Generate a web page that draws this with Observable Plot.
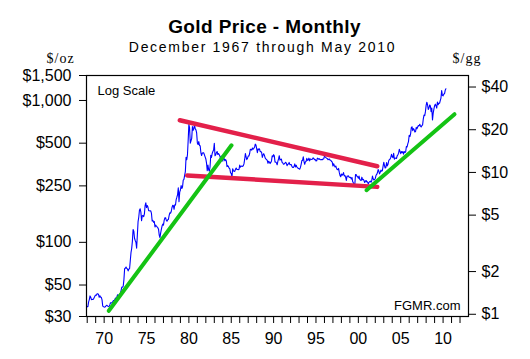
<!DOCTYPE html>
<html>
<head>
<meta charset="utf-8">
<script src="https://cdn.jsdelivr.net/npm/d3@7"></script>
<script src="https://cdn.jsdelivr.net/npm/@observablehq/plot@0.6"></script>
<style>
  html, body { margin: 0; padding: 0; background: #fff; }
  #chart { width: 530px; height: 359px; }
</style>
</head>
<body>
<div id="chart"></div>
<script>
// ---- Data ----
const titleText = "Gold Price - Monthly";
const subtitleText = "December 1967 through May 2010";
const leftUnit = "$/oz";
const rightUnit = "$/gg";
const OZ_GRAMS = 31.1035;

const priceTicks = [30, 50, 100, 250, 500, 1000, 1500];
const gramTicks = [1, 2, 5, 10, 20, 40];
const yearTicks = d3.range(1968, 2013);

// Monthly gold price ($/oz), starting December 1967
const startYear = 1967;
const startMonth = 11; // December (0-based)
const goldPrice = [
  35.0,
  35.2, 35.2, 38.0, 39.5, 41.9, 41.0, 39.4, 39.5, 39.6, 39.8, 40.9, 41.9, // 1968
  42.5, 42.4, 43.4, 43.3, 43.0, 41.0, 42.0, 41.0, 40.9, 39.3, 35.5, 35.2, // 1969
  34.9, 35.0, 35.3, 35.8, 36.0, 35.5, 35.3, 35.4, 36.2, 37.5, 37.4, 37.4, // 1970
  38.0, 38.8, 38.9, 39.2, 40.5, 40.1, 41.0, 42.7, 42.0, 42.5, 43.0, 43.6, // 1971
  45.8, 48.3, 48.3, 49.0, 54.6, 65.1, 65.7, 67.0, 65.5, 64.9, 62.9, 64.9, // 1972
  65.1, 74.2, 84.5, 90.5, 102.0, 123.3, 120.0, 106.8, 103.0, 100.1, 90.8, 112.3, // 1973
  139.3, 150.2, 168.4, 172.2, 163.3, 142.0, 154.1, 154.6, 151.8, 158.8, 181.5, 190.0, // 1974
  175.8, 181.8, 177.3, 167.0, 167.0, 166.3, 166.7, 159.8, 141.3, 142.9, 138.3, 140.3, // 1975
  128.2, 132.3, 129.6, 128.4, 126.8, 123.8, 112.5, 108.0, 116.0, 123.2, 130.3, 134.5, // 1976
  132.3, 142.8, 148.9, 149.2, 143.0, 140.8, 144.1, 145.0, 154.1, 161.5, 160.5, 165.0, // 1977
  175.3, 182.3, 181.6, 170.9, 184.0, 183.1, 200.3, 208.1, 217.1, 242.6, 193.4, 226.0, // 1978
  233.7, 251.3, 240.1, 245.3, 274.6, 277.5, 296.5, 315.1, 397.3, 382.0, 415.7, 524.0, // 1979
  680.0, 640.0, 500.0, 520.0, 540.0, 655.0, 615.0, 635.0, 670.0, 630.0, 620.0, 590.0, // 1980
  502, 489, 513, 482, 479, 428, 409, 425, 428, 427, 414, 400, // 1981
  387, 362, 320, 350, 325, 317, 342, 411, 397, 423, 437, 448, // 1982
  499, 408, 414, 429, 437, 416, 423, 414, 405, 383, 405, 382, // 1983
  374, 394, 388, 376, 383, 375, 342, 347, 342, 333, 329, 309, // 1984
  306, 288, 330, 321, 316, 317, 327, 334, 326, 326, 325, 327, // 1985
  350, 339, 344, 345, 343, 346, 357, 384, 423, 401, 383, 391, // 1986
  405, 406, 421, 453, 451, 447, 462, 453, 460, 468, 492, 484, // 1987
  458, 428, 457, 450, 456, 436, 437, 431, 397, 412, 422, 410, // 1988
  394, 388, 383, 378, 361, 373, 368, 359, 366, 375, 408, 401, // 1989
  415, 407, 368, 368, 363, 352, 372, 387, 408, 380, 384, 386, // 1990
  366, 363, 355, 357, 361, 367, 362, 347, 355, 357, 366, 353, // 1991
  354, 353, 342, 337, 337, 343, 357, 340, 349, 340, 334, 333, // 1992
  330, 328, 337, 355, 377, 378, 401, 372, 355, 370, 372, 391, // 1993
  378, 381, 392, 375, 387, 385, 384, 386, 394, 389, 383, 383, // 1994
  375, 376, 392, 389, 385, 388, 383, 382, 384, 382, 387, 387, // 1995
  405, 400, 396, 392, 390, 382, 385, 386, 379, 379, 371, 369, // 1996
  345, 358, 348, 340, 345, 334, 326, 325, 332, 311, 296, 290, // 1997
  303, 297, 301, 310, 294, 296, 288, 273, 293, 292, 294, 288, // 1998
  287, 287, 280, 286, 268, 262, 255, 255, 300, 300, 292, 290, // 1999
  283, 293, 278, 274, 273, 288, 276, 278, 273, 264, 270, 273, // 2000
  266, 267, 258, 264, 268, 270, 265, 273, 293, 280, 275, 277, // 2001
  282, 297, 301, 309, 326, 318, 304, 312, 323, 317, 320, 343, // 2002
  367, 348, 334, 338, 365, 346, 355, 376, 384, 386, 398, 417, // 2003
  400, 396, 424, 386, 393, 392, 390, 407, 415, 425, 453, 438, // 2004
  422, 436, 428, 436, 418, 437, 430, 434, 473, 470, 495, 513, // 2005
  569, 557, 582, 644, 653, 613, 633, 623, 599, 604, 646, 632, // 2006
  650, 665, 662, 679, 660, 650, 665, 673, 743, 790, 783, 834, // 2007
  923, 972, 933, 865, 885, 930, 918, 834, 884, 730, 814, 870, // 2008
  919, 942, 916, 884, 976, 935, 955, 956, 996, 1040, 1175, 1087, // 2009
  1078, 1109, 1115, 1180, 1208 // 2010
];

// Trend lines (end points)
const resistanceYears = [1978.93, 2002.23];
const resistancePrices = [725, 344];
const supportYears = [1979.80, 2002.23];
const supportPrices = [296, 246];
const uptrend1Years = [1970.55, 1985.03];
const uptrend1Prices = [32.9, 483];
const uptrend2Years = [2000.96, 2011.35];
const uptrend2Prices = [233, 800];

// ---- Build tables ----
const series = goldPrice.map((p, i) => ({t: startYear + (startMonth + i) / 12, p}));
const toRows = (xs, ys) => xs.map((x, i) => ({t: x, p: ys[i]}));
const resistance = toRows(resistanceYears, resistancePrices);
const support = toRows(supportYears, supportPrices);
const uptrend1 = toRows(uptrend1Years, uptrend1Prices);
const uptrend2 = toRows(uptrend2Years, uptrend2Prices);

const RED = "#e3204a";
const GREEN = "#14c314";

const chart = Plot.plot({
  width: 530,
  height: 359,
  marginTop: 75,
  marginBottom: 43,
  marginLeft: 86,
  marginRight: 62,
  style: {fontFamily: "'Liberation Sans', Arial, sans-serif", fontSize: "16px", color: "black", background: "white", overflow: "visible"},
  x: {domain: [startYear + startMonth / 12, 2013], axis: null},
  y: {type: "log", domain: [30, 1500], axis: null},
  marks: [
    // tick marks only (labels drawn below as text marks)
    Plot.axisY(priceTicks, {anchor: "left", tickSize: 7, label: null, tickFormat: () => ""}),
    Plot.axisY(gramTicks.map(g => g * OZ_GRAMS), {anchor: "right", tickSize: 7, label: null, tickFormat: () => ""}),
    Plot.text(priceTicks, {y: d => d, text: d => "$" + d3.format(",")(d), frameAnchor: "left", dx: -15, textAnchor: "end", fontSize: 16}),
    Plot.text(gramTicks, {y: d => d * OZ_GRAMS, text: d => "$" + d, frameAnchor: "right", dx: 13, textAnchor: "start", fontSize: 16}),
    Plot.axisX(yearTicks, {anchor: "bottom", tickSize: 7, tickPadding: 9, fontSize: 16, label: null,
      tickFormat: d => d % 5 === 0 ? String(d).slice(2) : ""}),
    Plot.line(series, {x: "t", y: "p", stroke: "#0000ff", strokeWidth: 1.1}),
    Plot.line(resistance, {x: "t", y: "p", stroke: RED, strokeWidth: 4.5}),
    Plot.line(support, {x: "t", y: "p", stroke: RED, strokeWidth: 4.5}),
    Plot.line(uptrend1, {x: "t", y: "p", stroke: GREEN, strokeWidth: 4}),
    Plot.line(uptrend2, {x: "t", y: "p", stroke: GREEN, strokeWidth: 4}),
    Plot.frame({stroke: "black", strokeWidth: 1.2}),
    Plot.text(["Log Scale"], {text: d => d, frameAnchor: "top-left", dx: 11, dy: 19, textAnchor: "start", lineAnchor: "bottom", fontSize: 13}),
    Plot.text(["FGMR.com"], {text: d => d, frameAnchor: "bottom-right", dx: -8, dy: -7, textAnchor: "end", lineAnchor: "bottom", fontSize: 13}),
    Plot.text([titleText], {text: d => d, frameAnchor: "top", dx: -13, dy: -43, lineAnchor: "bottom", fontSize: 19, fontWeight: "bold"}),
    Plot.text([subtitleText], {text: d => d, frameAnchor: "top", dx: -15, dy: -24, lineAnchor: "bottom", fontSize: 14}),
    Plot.text([leftUnit], {text: d => d, frameAnchor: "top-left", dx: -40, dy: -13, lineAnchor: "bottom", fontSize: 14, fontFamily: "'Liberation Serif', 'Times New Roman', serif"}),
    Plot.text([rightUnit], {text: d => d, frameAnchor: "top-right", dx: 13, dy: -13, lineAnchor: "bottom", fontSize: 14, fontFamily: "'Liberation Serif', 'Times New Roman', serif"})
  ]
});

chart.querySelectorAll("text").forEach(t => {
  const s = t.textContent;
  if (s === subtitleText) t.setAttribute("letter-spacing", "1.7");
  if (s === titleText) t.setAttribute("letter-spacing", "0.4");
  if (s === leftUnit || s === rightUnit) t.setAttribute("letter-spacing", "1");
});

document.getElementById("chart").appendChild(chart);
</script>
</body>
</html>
